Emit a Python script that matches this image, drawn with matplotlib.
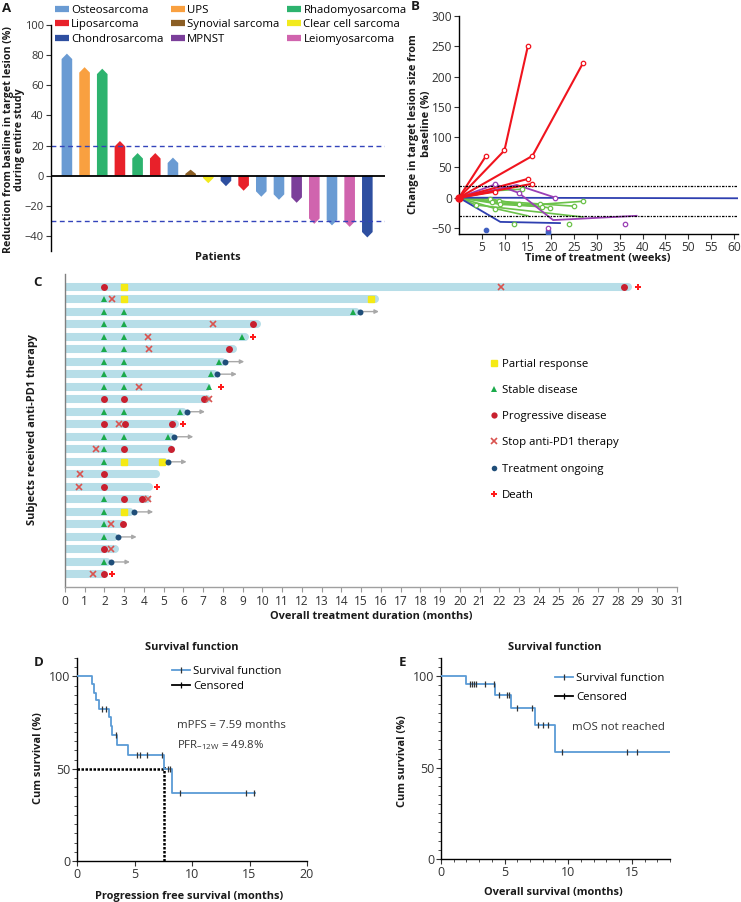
import numpy as np
import matplotlib
matplotlib.use('Agg')
import matplotlib.pyplot as plt
from matplotlib.lines import Line2D
from matplotlib.ticker import MultipleLocator

plt.rcParams['font.family'] = ['Open Sans', 'DejaVu Sans']
plt.rcParams['font.size'] = 7.6
plt.rcParams['mathtext.default'] = 'regular'
plt.rcParams['axes.linewidth'] = 1.0
plt.rcParams['xtick.major.size'] = 3.5
plt.rcParams['ytick.major.size'] = 3.5
plt.rcParams['xtick.color'] = '#333333'
plt.rcParams['ytick.color'] = '#333333'

W, H = 741, 902

# ---------------- data ----------------
# A: waterfall
tumor_colors = {
    'Osteosarcoma': '#6A9BD3', 'UPS': '#F9A040', 'Rhadomyosarcoma': '#2DB36E',
    'Liposarcoma': '#E8212A', 'Synovial sarcoma': '#8B5E24', 'Clear cell sarcoma': '#F2EA1D',
    'Chondrosarcoma': '#2E4FA0', 'MPNST': '#7B3F9A', 'Leiomyosarcoma': '#D064AE',
}
legend_order = ['Osteosarcoma', 'Liposarcoma', 'Chondrosarcoma',
                'UPS', 'Synovial sarcoma', 'MPNST',
                'Rhadomyosarcoma', 'Clear cell sarcoma', 'Leiomyosarcoma']
a_types = ['Osteosarcoma', 'UPS', 'Rhadomyosarcoma', 'Liposarcoma', 'Rhadomyosarcoma',
           'Liposarcoma', 'Osteosarcoma', 'Synovial sarcoma', 'Clear cell sarcoma',
           'Chondrosarcoma', 'Liposarcoma', 'Osteosarcoma', 'Osteosarcoma', 'MPNST',
           'Leiomyosarcoma', 'Osteosarcoma', 'Leiomyosarcoma', 'Chondrosarcoma']
a_values = [81, 72, 71, 23, 15, 15, 12, 4, -5, -7, -10, -14, -16, -18, -32, -33, -34, -41]

# B: spider plot (weeks, % change)
b_red_lines = [([0, 5.8], [0, 68]), ([0, 9.9, 15.0], [0, 78, 250]),
               ([0, 16.0, 27.0], [0, 69, 222]), ([0, 15.0], [0, 31]),
               ([0, 16.0], [0, 23]), ([0, 7.9], [0, 10])]
b_red_pts = ([5.8, 9.9, 15.0, 16.0, 27.0, 15.0, 16.0, 7.9], [68, 78, 250, 69, 222, 31, 23, 10])
b_purple_lines = [([0, 7.9, 13.0, 20.5, 38.7], [0, 22, 8, -37, -30]),
                  ([0, 12.6, 21.0], [0, 21, 0])]
b_purple_pts = ([7.9, 13.0, 21.0, 19.5, 36.2], [22, 8, 0, -50, -43])
b_blue_lines = [([0, 9.0, 22.0], [0, -40, -42]), ([0, 60.8], [0, -1])]
b_blue_pts = ([5.8, 19.5, 19.5], [-54, -55, -58])
b_green_lines = [([0, 9.0, 13.7], [0, 12, 14]),
                 ([0, 6.8, 13.0, 17.7, 27.0], [0, -2, -11, -11, -6]),
                 ([0, 8.8, 25.0], [0, -6, -14]),
                 ([0, 7.9, 15.0], [0, -18, -30]),
                 ([0, 9.0, 18.0, 19.9], [0, -11, -15, -17]),
                 ([0, 3.6, 27.0], [0, -12, -32]),
                 ([0, 7.1, 18.0], [0, -7, -15])]
b_green_pts = ([13.7, 6.8, 13.0, 17.7, 27.0, 8.8, 25.0, 7.9, 9.0, 18.0, 19.9, 3.6, 7.1, 11.9, 24.0],
               [14, -2, -11, -11, -6, -6, -14, -18, -11, -15, -17, -12, -7, -44, -44])

# C: swimmer plot (row index from top, months)
c_bar_end = [28.7, 15.9, 14.95, 9.9, 9.3, 8.7, 8.12, 7.72, 7.4, 7.4, 6.16, 5.74,
             5.54, 5.49, 5.2, 4.78, 4.47, 4.34, 3.5, 3.04, 2.67, 2.7, 2.31, 2.11]
c_pr = [(0, 3), (1, 3), (1, 15.5), (14, 3), (14, 4.93), (18, 3)]
c_sd = [(1, 2), (2, 2), (2, 3), (2, 14.6), (3, 2), (3, 3), (4, 2), (4, 3), (4, 8.95),
        (5, 2), (5, 3), (6, 2), (6, 3), (6, 7.82), (7, 2), (7, 3), (7, 7.4),
        (8, 2), (8, 3), (8, 7.3), (10, 2), (10, 3), (10, 5.83), (12, 2), (12, 3), (12, 5.2),
        (13, 2), (14, 2), (17, 2), (18, 2), (19, 2), (20, 2), (22, 2)]
c_pd = [(0, 2), (0, 28.3), (3, 9.5), (5, 8.3), (9, 2), (9, 3), (9, 7.04), (11, 2), (11, 3.04),
        (11, 5.44), (13, 3), (13, 5.37), (15, 2), (16, 2), (17, 3), (17, 3.92), (19, 2.92),
        (21, 2), (23, 2)]
c_stop = [(0, 22.1), (1, 2.4), (3, 7.5), (4, 4.22), (5, 4.27), (8, 3.75), (9, 7.3),
          (11, 2.74), (13, 1.57), (15, 0.76), (16, 0.71), (17, 4.19), (19, 2.31),
          (21, 2.31), (23, 1.4)]
c_ongoing = [(2, 14.95, 15.9), (6, 8.12, 9.08), (7, 7.72, 8.7), (10, 6.16, 7.09),
             (12, 5.54, 6.5), (14, 5.2, 6.16), (18, 3.5, 4.47), (20, 2.67, 3.63), (22, 2.31, 3.29)]
c_death = [(0, 29.0), (4, 9.5), (8, 7.9), (11, 5.96), (16, 4.68), (23, 2.37)]

# D: PFS
d_times = [0, 1.28, 1.52, 1.65, 1.95, 2.8, 2.95, 3.02, 3.45, 4.4, 7.57, 8.26, 15.5]
d_surv = [100, 95.7, 91.3, 87.0, 82.6, 78.0, 73.4, 68.2, 63.0, 57.6, 49.6, 36.8, 36.8]
d_cens = [2.15, 2.52, 3.4, 5.25, 5.5, 6.05, 7.36, 7.9, 8.1, 8.96, 14.7, 15.4]
d_median = 7.59
d_median_surv = 49.8

# E: OS
e_times = [0, 2.0, 4.26, 5.5, 7.37, 9.0, 18.0]
e_surv = [100, 95.7, 90.0, 82.5, 73.4, 58.8, 58.8]
e_cens = [2.3, 2.45, 2.6, 2.75, 3.45, 4.16, 4.55, 5.15, 5.35, 6.0, 7.15, 7.6, 8.0, 8.4,
          9.55, 14.6, 15.4]


def rect(l, t, r, b):
    return [l / W, 1 - b / H, (r - l) / W, (b - t) / H]


def ftext(x, y, s, **kw):
    fig.text(x / W, 1 - y / H, s, **kw)


fig = plt.figure(figsize=(W / 100, H / 100), dpi=100)
bold = dict(fontweight='bold', color='#1a1a1a', fontsize=7.9)

# ---------------- A ----------------
axA = fig.add_axes(rect(51, 25, 385, 251))
bw, tip = 0.6, 3.6
for i, (t, v) in enumerate(zip(a_types, a_values)):
    s = np.sign(v)
    th = min(tip, abs(v) * 0.7)
    xs = [i - bw / 2, i - bw / 2, i, i + bw / 2, i + bw / 2]
    ys = [0, v - s * th, v, v - s * th, 0]
    axA.fill(xs, ys, color=tumor_colors[t], lw=0)
axA.axhline(0, color='black', lw=1.3, zorder=3)
for yv in (20, -30):
    axA.axhline(yv, color='#3344BB', lw=1.0, ls=(0, (3.5, 2.5)))
axA.set_xlim(-0.9, 18.0)
axA.set_ylim(-50, 100)
axA.set_yticks(np.arange(-40, 101, 20))
axA.set_xticks([])
for sp in ('top', 'right', 'bottom'):
    axA.spines[sp].set_visible(False)
axA.tick_params(axis='y', pad=1.5, labelsize=8)
handles = [Line2D([], [], color=tumor_colors[k], lw=4.5, solid_capstyle='butt') for k in legend_order]
fig.legend(handles, legend_order, ncol=3, loc='upper left', bbox_to_anchor=(55 / W, 1 - 5 / H),
           frameon=False, fontsize=8.2, handlelength=1.2, handletextpad=0.2,
           columnspacing=0.7, labelspacing=0.3, borderaxespad=0, borderpad=0)
ftext(14, 140, 'Reduction from basline in target lesion (%)\nduring entire study',
      rotation=90, ha='center', va='center', multialignment='center', linespacing=1.1,
      fontweight='bold', color='#1a1a1a', fontsize=7.7)
ftext(218, 258, 'Patients', ha='center', va='center', **bold)

# ---------------- B ----------------
axB = fig.add_axes(rect(459, 16, 738, 234))
mk = dict(marker='o', ms=3.2, mfc='white', mew=0.9, ls='none', zorder=4)
for xs, ys in b_green_lines:
    axB.plot(xs, ys, color='#6CC24A', lw=1.2)
axB.plot(*b_green_pts, color='#6CC24A', **mk)
for xs, ys in b_blue_lines:
    axB.plot(xs, ys, color='#2E3FB0', lw=1.3)
axB.plot(*b_blue_pts, color='#3F5FC0', marker='o', ms=3.2, mew=0.9, ls='none', zorder=4)
for xs, ys in b_purple_lines:
    axB.plot(xs, ys, color='#9A3FB5', lw=1.3)
axB.plot(*b_purple_pts, color='#9A3FB5', **mk)
for xs, ys in b_red_lines:
    axB.plot(xs, ys, color='#F0141E', lw=1.5)
axB.plot(*b_red_pts, color='#F0141E', **mk)
axB.plot([0], [0], 'o', color='#F0141E', ms=5, zorder=5, clip_on=False)
for yv in (20, -30):
    axB.axhline(yv, color='black', lw=0.9, ls=(0, (2, 1, 1, 1)))
axB.set_xlim(0, 60.8)
axB.set_ylim(-60, 300)
axB.set_xticks(np.arange(5, 61, 5))
axB.set_yticks(np.arange(-50, 301, 50))
for sp in ('top', 'right'):
    axB.spines[sp].set_visible(False)
axB.tick_params(pad=1.5, labelsize=8.6)
ftext(420, 124, 'Change in target lesion size from\nbaseline (%)', rotation=90,
      ha='center', va='center', multialignment='center', **bold)
ftext(598, 259, 'Time of treatment (weeks)', ha='center', va='center', **bold)

# ---------------- C ----------------
axC = fig.add_axes(rect(65, 274, 677, 587))
cap = 0.19
for r, e in enumerate(c_bar_end):
    axC.plot([-1, e - cap], [r, r], color='#B7DEE8', lw=5.8, solid_capstyle='round', zorder=1)
for r, x0, x1 in c_ongoing:
    axC.annotate('', xy=(x1, r), xytext=(x0, r),
                 arrowprops=dict(arrowstyle='-|>', color='#A8A8A8', lw=1.0,
                                 mutation_scale=6, shrinkA=0, shrinkB=0), zorder=2)
def pts(lst):
    return [p[1] for p in lst], [p[0] for p in lst]
axC.plot(*pts(c_pr), 's', color='#F5EA14', ms=5, zorder=3)
axC.plot(*pts(c_sd), '^', color='#1AAA4B', ms=5, mew=0, zorder=3)
axC.plot(*pts(c_pd), 'o', color='#C8202F', ms=5, mew=0, zorder=3)
axC.plot(*pts(c_stop), 'x', color='#D9534F', ms=5, mew=1.2, zorder=4)
axC.plot([p[1] for p in c_ongoing], [p[0] for p in c_ongoing], 'o', color='#1F4E79',
         ms=4.3, mew=0, zorder=4)
axC.plot(*pts(c_death), 'P', color='#FF1A1A', ms=5, mew=0, zorder=4)
axC.set_xlim(0, 31)
axC.set_ylim(24.0, -1.0)
axC.set_xticks(np.arange(0, 32, 1))
axC.set_yticks([])
axC.tick_params(axis='x', pad=2, color='#999999', labelsize=8.6)
for sp in ('top', 'right'):
    axC.spines[sp].set_visible(False)
axC.spines['bottom'].set_color('#A0A0A0')
axC.spines['left'].set_color('#808080')
c_handles = [Line2D([], [], marker='s', color='#F5EA14', ls='none', ms=4.5),
             Line2D([], [], marker='^', color='#1AAA4B', ls='none', ms=4.5, mew=0),
             Line2D([], [], marker='o', color='#C8202F', ls='none', ms=4.5, mew=0),
             Line2D([], [], marker='x', color='#D9534F', ls='none', ms=4.5, mew=1.2),
             Line2D([], [], marker='o', color='#1F4E79', ls='none', ms=4, mew=0),
             Line2D([], [], marker='P', color='#FF1A1A', ls='none', ms=4.5, mew=0)]
c_labels = ['Partial response', 'Stable disease', 'Progressive disease',
            'Stop anti-PD1 therapy', 'Treatment ongoing', 'Death']
fig.legend(c_handles, c_labels, loc='upper left', bbox_to_anchor=(489 / W, 1 - 359 / H),
           frameon=False, fontsize=8.2, handlelength=0.8, handletextpad=0.3,
           labelspacing=1.33, borderaxespad=0, borderpad=0)
ftext(33, 430, 'Subjects received anti-PD1 therapy', rotation=90, ha='center', va='center', **bold)
ftext(371, 616, 'Overall treatment duration (months)', ha='center', va='center', **bold)

# ---------------- D / E ----------------
def km(ax, times, surv, cens, xmax):
    ax.step(times, surv, where='post', color='#5B9BD5', lw=1.3, zorder=3)
    idx = np.searchsorted(times, cens, side='right') - 1
    ax.plot(cens, np.array(surv)[idx], '|', color='#333333', ms=4, mew=0.9, zorder=4)
    ax.set_ylim(0, 110)
    ax.set_xlim(0, xmax)
    ax.set_yticks([0, 50, 100])
    ax.yaxis.set_minor_locator(MultipleLocator(5))
    ax.tick_params(which='minor', length=2)
    ax.tick_params(pad=1.5, labelsize=9)
    for sp in ('top', 'right'):
        ax.spines[sp].set_visible(False)

axD = fig.add_axes(rect(77, 658, 307, 861))
km(axD, d_times, d_surv, d_cens, 20)
axD.set_xticks([0, 5, 10, 15, 20])
axD.plot([0, d_median], [d_median_surv, d_median_surv], color='black', lw=1.8,
         ls=(0, (1, 0.6)), zorder=2)
axD.plot([d_median, d_median], [0, d_median_surv + 1.5], color='black', lw=1.8,
         ls=(0, (1, 0.6)), zorder=2)
km_handles = [Line2D([], [], color='#5B9BD5', lw=1.3, marker='|', ms=4, mec='#333333', mew=0.9),
              Line2D([], [], color='black', lw=1.3, marker='|', ms=4, mew=0.9)]
axD.legend(km_handles, ['Survival function', 'Censored'], loc='upper left',
           bbox_to_anchor=(0.415, 0.96), frameon=False, fontsize=8.2, handlelength=1.5,
           handletextpad=0.3, labelspacing=0.35, borderaxespad=0, borderpad=0)
axD.text(8.7, 73.6, 'mPFS = 7.59 months', va='center', fontsize=8.2, color='#333333')
axD.text(8.7, 62.8, 'PFR$_{-12W}$ = 49.8%', va='center', fontsize=8.2, color='#333333')
ftext(192, 648, 'Survival function', ha='center', va='center', **bold)
ftext(39, 758, 'Cum survival (%)', rotation=90, ha='center', va='center', **bold)
ftext(189, 896, 'Progression free survival (months)', ha='center', va='center', **bold)

axE = fig.add_axes(rect(441, 658, 670, 859))
km(axE, e_times, e_surv, e_cens, 18)
axE.set_xticks([0, 5, 10, 15])
axE.xaxis.set_minor_locator(MultipleLocator(1))
axE.legend(km_handles, ['Survival function', 'Censored'], loc='upper left',
           bbox_to_anchor=(0.5, 0.925), frameon=False, fontsize=8.2, handlelength=1.5,
           handletextpad=0.3, labelspacing=0.7, borderaxespad=0, borderpad=0)
axE.text(10.3, 72, 'mOS not reached', va='center', fontsize=8.2, color='#333333')
ftext(555, 648, 'Survival function', ha='center', va='center', **bold)
ftext(402, 761, 'Cum survival (%)', rotation=90, ha='center', va='center', **bold)
ftext(553, 893, 'Overall survival (months)', ha='center', va='center', **bold)

# panel letters
for lab, x, y in [('A', 7, 8), ('B', 415, 7), ('C', 38, 283), ('D', 39, 663), ('E', 402, 662)]:
    ftext(x, y, lab, ha='center', va='center', fontsize=9.5, fontweight='bold', color='#1a1a1a')

fig.savefig('out.png', dpi=100)
